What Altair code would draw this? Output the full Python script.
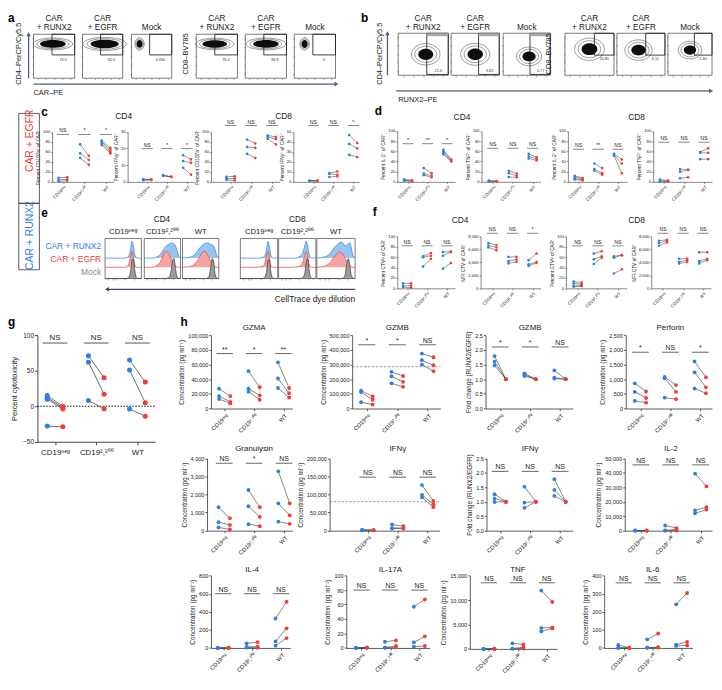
import altair as alt
import pandas as pd

# ======================= DATA =======================
GROUPS = ["CD19ⁿᵉᵍ", "CD19²,²⁰⁰", "WT"]

# ---- panel a / b flow plots (values in box-relative units) ----
A_TITLES = [["CAR", "+ RUNX2"], ["CAR", "+ EGFR"], ["Mock"], ["CAR", "+ RUNX2"], ["CAR", "+ EGFR"], ["Mock"]]
A_PCT = ["74.0", "82.0", "0.050", "78.4", "83.9", "0"]
A_BLOB_X = [0.47, 0.55, 0.2, 0.45, 0.5, 0.25]
A_BLOB_Y = [0.78, 0.78, 0.78, 0.78, 0.78, 0.78]
A_BLOB_W = [0.62, 0.7, 0.15, 0.6, 0.62, 0.15]
A_BLOB_R = [0.3, 0.3, 1.3, 0.3, 0.3, 1.3]
A_GATE = [0.45, 1.0, 0.53, 1.0]
B_PCT = ["21.6", "5.82", "0.77", "20.80", "6.11", "1.60"]
B_BLOB_X = [0.55, 0.5, 0.55, 0.5, 0.45, 0.5]
B_BLOB_Y = [0.5, 0.5, 0.45, 0.62, 0.6, 0.6]
B_BLOB_W = [0.3, 0.32, 0.28, 0.32, 0.3, 0.28]
B_BLOB_R = [0.75, 0.75, 0.75, 0.75, 0.75, 0.75]
B_GATE_CD4 = [0.57, 1.0, 0.02, 1.0]
B_GATE_CD8 = [0.6, 1.0, 0.48, 1.0]
FLOW_TICKS = [0.1, 0.3, 0.5, 0.7, 0.9]

# ---- panel c ----
C1_BLUE = [[8, 4, 1], [75, 57, 48], [83, 80, 77, 74]]
C1_RED = [[9, 5, 2], [52, 44, 34], [68, 64, 60, 57]]
C1_STATS = ["NS", "*", "*"]
C2_BLUE = [[1.5, 1.2, 1.0], [4.0, 3.8, 3.6], [16, 12.5, 8.5]]
C2_RED = [[1.4, 1.3, 1.1], [3.1, 3.0, 2.9], [13.5, 11.4, 4.3]]
C2_STATS = ["NS", "*", "*"]
C3_BLUE = [[10, 6.5, 4], [85, 70, 56], [93, 90, 86]]
C3_RED = [[11, 6.5, 2.6], [77, 68, 48], [90, 86, 75]]
C3_STATS = ["NS", "NS", "NS"]
C4_BLUE = [[1, 1, 1], [8.7, 8.0, 4.8], [47, 38, 27]]
C4_RED = [[1, 1, 1], [10.3, 7.1, 5.5], [39, 33.5, 24.8]]
C4_STATS = ["NS", "NS", "*"]

# ---- panel d ----
D1_BLUE = [[5, 3, 2], [27, 16, 13], [63, 60, 57, 54]]
D1_RED = [[3, 2, 1], [17, 12, 9], [44, 43, 41, 40]]
D1_STATS = ["*", "**", "*"]
D2_BLUE = [[2.5, 1.3, 1.0], [21.7, 17, 9.5], [55, 50, 46]]
D2_RED = [[1.3, 1.2, 1.0], [16, 11.5, 9], [48, 45, 42]]
D2_STATS = ["NS", "NS", "NS"]
D3_BLUE = [[12, 9.5, 6.4, 4.5], [36, 25, 22], [55, 53, 51.6]]
D3_RED = [[7.6, 5.7, 4, 2.5], [27, 17, 14], [44, 36, 16.6]]
D3_STATS = ["NS", "**", "NS"]
D4_BLUE = [[4.5, 1.3, 1.0], [25, 20, 7], [58.6, 57, 44.6]]
D4_RED = [[2.5, 1.3, 1.0], [24, 23, 9], [66, 57, 44.6]]
D4_STATS = ["NS", "NS", "NS"]

# ---- panel e (histogram heights, box-relative) ----
HX = [0, 0.2, 0.35, 0.45, 0.52, 0.58, 0.64, 0.7, 0.74, 0.78, 0.82, 0.86, 0.9, 0.95, 1.0]
E_BLUE = [
    [0, 0, 0, 0, 0, 0.01, 0.03, 0.2, 0.42, 0.3, 0.08, 0.02, 0, 0, 0],
    [0, 0, 0.03, 0.1, 0.2, 0.28, 0.33, 0.36, 0.38, 0.37, 0.36, 0.3, 0.2, 0.05, 0],
    [0, 0.02, 0.1, 0.22, 0.3, 0.35, 0.37, 0.38, 0.36, 0.34, 0.33, 0.3, 0.2, 0.06, 0],
    [0, 0, 0, 0, 0, 0.01, 0.04, 0.2, 0.42, 0.28, 0.06, 0.01, 0, 0, 0],
    [0, 0, 0, 0, 0.02, 0.05, 0.12, 0.3, 0.42, 0.3, 0.08, 0.02, 0, 0, 0],
    [0, 0.03, 0.12, 0.25, 0.33, 0.38, 0.4, 0.35, 0.3, 0.32, 0.36, 0.38, 0.25, 0.05, 0],
]
E_RED = [
    [0, 0, 0, 0, 0, 0.01, 0.05, 0.25, 0.39, 0.25, 0.06, 0.01, 0, 0, 0],
    [0, 0, 0.05, 0.15, 0.3, 0.4, 0.38, 0.3, 0.22, 0.15, 0.08, 0.03, 0.01, 0, 0],
    [0, 0.02, 0.1, 0.22, 0.33, 0.4, 0.38, 0.3, 0.22, 0.15, 0.08, 0.03, 0.01, 0, 0],
    [0, 0, 0, 0, 0.01, 0.02, 0.06, 0.3, 0.4, 0.2, 0.04, 0.01, 0, 0, 0],
    [0, 0, 0, 0.01, 0.02, 0.04, 0.1, 0.3, 0.4, 0.25, 0.06, 0.01, 0, 0, 0],
    [0, 0.03, 0.12, 0.25, 0.33, 0.38, 0.36, 0.3, 0.22, 0.15, 0.08, 0.03, 0.01, 0, 0],
]
E_GREY = [
    [0, 0, 0, 0, 0, 0, 0.02, 0.15, 0.45, 0.49, 0.2, 0.03, 0, 0, 0],
    [0, 0, 0, 0, 0, 0, 0.01, 0.05, 0.2, 0.45, 0.5, 0.25, 0.05, 0, 0],
    [0, 0, 0, 0, 0, 0, 0, 0.02, 0.08, 0.3, 0.5, 0.4, 0.1, 0.01, 0],
    [0, 0, 0, 0, 0, 0, 0.02, 0.15, 0.45, 0.48, 0.15, 0.02, 0, 0, 0],
    [0, 0, 0, 0, 0, 0, 0.02, 0.12, 0.4, 0.5, 0.2, 0.03, 0, 0, 0],
    [0, 0, 0, 0, 0, 0, 0, 0.02, 0.1, 0.35, 0.5, 0.35, 0.08, 0.01, 0],
]
E_BASES = [0.51, 0.28, 0.0]
E_TICKS = [0.08, 0.2, 0.3, 0.55, 0.8]

# ---- panel f ----
F1_BLUE = [[9.5, 5, 2.5], [62, 60, 42], [70, 63, 38]]
F1_RED = [[9.5, 5, 1.3], [68, 63, 57], [71, 70, 49]]
F1_STATS = ["NS", "NS", "NS"]
F2_BLUE = [[7000, 6600, 6300], [4860, 4200, 3850], [4350, 3700, 3450]]
F2_RED = [[6700, 6300, 5870], [4860, 4450, 4100], [5370, 4050, 3950]]
F2_STATS = ["NS", "NS", "*"]
F3_BLUE = [[13, 9.5, 5, 3], [67, 56, 47], [62, 59, 28.5]]
F3_RED = [[11, 7.6, 5, 4.4], [71.5, 62, 59], [64, 64, 36.7]]
F3_STATS = ["NS", "NS", "NS"]
F4_BLUE = [[7340, 6990, 6580], [4560, 4050, 3850], [5570, 4200, 3850]]
F4_RED = [[7490, 7340, 7090], [4560, 4350, 4050], [5570, 4560, 4350]]
F4_STATS = ["NS", "NS", "NS"]

# ---- panel g ----
G_BLUE = [[15, 12, 10, -28], [71, 62, 8], [65, 51, -4]]
G_RED = [[0, -2, -4, -29], [40, 17, -3.5], [34, 5, -14]]
G_STATS = ["NS", "NS", "NS"]

# ---- panel h ----
GZMA_BLUE = [[27000, 17000, 13000], [51000, 27000, 23000], [63000, 41000, 28000]]
GZMA_RED = [[17000, 9000, 7000], [29000, 18000, 12000], [28000, 21000, 15000]]
GZMA_STATS = ["**", "*", "**"]
GZMB_BLUE = [[122000, 112000, 43000], [250000, 220000, 172000], [375000, 330000, 300000]]
GZMB_RED = [[83000, 60000, 27000], [222000, 182000, 148000], [350000, 295000, 255000]]
GZMB_STATS = ["*", "*", "NS"]
GZMBFC_BLUE = [[1.79, 1.6, 1.47], [1.2, 1.15, 1.11], [1.3, 1.05, 1.02]]
GZMBFC_RED = [[1, 1, 1], [1, 1, 1], [1, 1, 1]]
GZMBFC_STATS = ["*", "*", "NS"]
PRF_BLUE = [[860, 570, 260], [1075, 1030, 370], [1606, 1233, 679]]
PRF_RED = [[580, 360, 200], [800, 570, 320], [1063, 724, 520]]
PRF_STATS = ["*", "NS", "*"]
GNLY_BLUE = [[1300, 470, 180], [2250, 1350, 360], [3280, 1510, 500]]
GNLY_RED = [[690, 320, 70], [1300, 760, 250], [1510, 850, 380]]
GNLY_STATS = ["NS", "*", "NS"]
IFNG_BLUE = [[1800, 1500, 1200], [17000, 7000, 6000], [126000, 99000, 92000]]
IFNG_RED = [[1500, 1300, 1000], [12800, 8000, 5500], [82000, 73000, 65000]]
IFNG_STATS = ["NS", "NS", "NS"]
IFNGFC_BLUE = [[1.26, 1.11, 0.99], [1.52, 0.97, 0.79], [1.78, 1.41, 1.2]]
IFNGFC_RED = [[1, 1, 1], [1, 1, 1], [1, 1, 1]]
IFNGFC_STATS = ["NS", "NS", "NS"]
IL2_BLUE = [[100, 50, 0], [3600, 200, 0], [39400, 14000, 12000]]
IL2_RED = [[100, 50, 0], [1800, 900, 0], [30600, 16200, 14600]]
IL2_STATS = ["NS", "NS", "NS"]
IL4_BLUE = [[0, 0, 0], [51, 11, 5], [326, 72, 25]]
IL4_RED = [[2, 0, 0], [65, 15, 2], [511, 217, 109]]
IL4_STATS = ["NS", "NS", "NS"]
IL17_BLUE = [[0, 0, 0], [8.6, 0.5, 0.3], [57, 7.7, 1.8]]
IL17_RED = [[0.5, 0.5, 0.3], [10.4, 2.7, 1], [67, 16, 2.7]]
IL17_STATS = ["NS", "NS", "NS"]
TNF_BLUE = [[0, 0, 0], [1130, 70, 30], [11930, 4270, 3600]]
TNF_RED = [[0, 0, 0], [930, 330, 100], [9600, 4400, 4200]]
TNF_STATS = ["NS", "NS", "NS"]
IL6_BLUE = [[16, 1, 0], [47, 2, 1], [241, 18, 11]]
IL6_RED = [[1, 0, 0], [80, 4, 2], [304, 33, 14]]
IL6_STATS = ["NS", "NS", "NS"]

# ======================= STYLE / LAYOUT =======================
W, H = 714, 674          # svg spans page x 8..722, y 8..682
SX = 712.0 / 718.0       # reference x 2..720  -> chart 0..712
SY = 674.0 / 682.0       # reference y 8..690  -> chart 0..674


def PX(px):
    return (px - 2) * SX


def PY(py):
    return (py - 8) * SY


BLUE = "#2f7fe3"
RED = "#ef3e39"
LBLUE = "#97c5f2"
LRED = "#f4a5a1"
GREYF = "#9d9d9d"
DARK = "#333333"
ARROW = "#4f5d7a"
FONT = "Liberation Sans"
TXT = "#1a1a1a"

LEXPR = ("datum.value == 0 ? '%s' : datum.value == 1 ? '%s' : datum.value == 2 ? '%s' : ''"
         % tuple(GROUPS))

SM = dict(lfs=4.2, tfs=4.8, xfs=4.5, pt=7, sfs=5.2, tick=1.5, dw=0.6, lw=0.5, bar=0.28,
          dx=0.2, tpad=2, lpad=1, angle=-45, barw=0.7)
MD = dict(lfs=5.6, tfs=6.4, xfs=5.8, pt=15, sfs=7, tick=2.2, dw=0.8, lw=0.6, bar=0.28,
          dx=0.19, tpad=3, lpad=1.5, angle=-45, barw=0.9)
GS = dict(lfs=6.5, tfs=7.5, xfs=8, pt=26, sfs=8, tick=3, dw=0.9, lw=0.7, bar=0.3,
          dx=0.19, tpad=4, lpad=4, angle=0, barw=1.0)

ONE = pd.DataFrame({"k": [0]})


def label(txt, x, y, size=8.0, color=TXT, align="center", baseline="middle",
          weight="normal", angle=0, lh=None):
    kw = dict(text=txt, fontSize=size, color=color, align=align, baseline=baseline,
              fontWeight=weight, font=FONT)
    if angle:
        kw["angle"] = angle
    if lh:
        kw["lineHeight"] = lh
    return alt.Chart(ONE).mark_text(**kw).encode(x=alt.value(PX(x)), y=alt.value(PY(y)))


def box(x0, x1, y0, y1, color=DARK, w=0.8):
    return alt.Chart(ONE).mark_rect(fill="white", fillOpacity=0, stroke=color, strokeWidth=w).encode(
        x=alt.value(PX(x0)), x2=alt.value(PX(x1)), y=alt.value(PY(y0)), y2=alt.value(PY(y1)))


def harrow(xa, xb, y, color=ARROW, w=1.3, head=22):
    line = alt.Chart(ONE).mark_rule(color=color, strokeWidth=w).encode(
        x=alt.value(PX(xa)), x2=alt.value(PX(xb)), y=alt.value(PY(y)))
    shape = "triangle-right" if xb > xa else "triangle-left"
    tip = alt.Chart(ONE).mark_point(shape=shape, filled=True, color=color, size=head, opacity=1).encode(
        x=alt.value(PX(xb)), y=alt.value(PY(y)))
    return [line, tip]


def varrow(x, ya, yb, color=ARROW, w=1.3, head=22):
    line = alt.Chart(ONE).mark_rule(color=color, strokeWidth=w).encode(
        x=alt.value(PX(x)), y=alt.value(PY(ya)), y2=alt.value(PY(yb)))
    tip = alt.Chart(ONE).mark_point(shape="triangle-up", filled=True, color=color, size=head, opacity=1).encode(
        x=alt.value(PX(x)), y=alt.value(PY(yb)))
    return [line, tip]


def paired(blue, red, stats, level, lay, ydom, yticks, ylab, st, fmt=",d", dashed=None, zero_line=False):
    x0, c0, sp, x1, ytop, ybot = lay
    xd = [(x0 - c0) / sp, (x1 - c0) / sp]
    xs = alt.Scale(domain=xd, range=[PX(x0), PX(x1)], nice=False, zero=False)
    ys = alt.Scale(domain=ydom, range=[PY(ybot), PY(ytop)], nice=False, zero=False)
    xa = alt.Axis(orient="bottom", offset=PY(ybot) - H, values=[0, 1, 2], labelExpr=LEXPR,
                  labelAngle=st["angle"], labelAlign="right" if st["angle"] else "center",
                  labelBaseline="top", labelFontSize=st["xfs"], labelPadding=st["lpad"],
                  tickSize=st["tick"], domainWidth=st["dw"], tickWidth=st["dw"], title=None,
                  grid=False, labelOverlap=False, labelFlush=False, domainColor=DARK,
                  tickColor=DARK, labelColor=TXT, labelFont=FONT)
    ya = alt.Axis(orient="left", offset=-PX(x0), values=yticks, format=fmt, title=ylab,
                  titleFontSize=st["tfs"], titleFontWeight="normal", titleColor=TXT,
                  labelFontSize=st["lfs"], tickSize=st["tick"], domainWidth=st["dw"],
                  tickWidth=st["dw"], grid=False, labelOverlap=False, labelFlush=False,
                  titlePadding=st["tpad"], labelPadding=1, domainColor=DARK, tickColor=DARK,
                  labelColor=TXT, labelFont=FONT, titleFont=FONT)
    rows = []
    for g, (bl, rl) in enumerate(zip(blue, red)):
        for i, (b, r) in enumerate(zip(bl, rl)):
            rows.append({"pair": f"{g}_{i}", "xp": g - st["dx"], "v": b, "c": BLUE})
            rows.append({"pair": f"{g}_{i}", "xp": g + st["dx"], "v": r, "c": RED})
    df = pd.DataFrame(rows)
    sdf = pd.DataFrame({"g": [0, 1, 2], "a": [g - st["bar"] for g in range(3)],
                        "b": [g + st["bar"] for g in range(3)], "lev": [level] * 3, "lab": stats})
    X = alt.X("xp:Q", scale=xs, axis=xa)
    Yv = alt.Y("v:Q", scale=ys, axis=ya)
    layers = []
    if dashed is not None or zero_line:
        ref = dashed if dashed is not None else 0
        ddf = pd.DataFrame({"a": [xd[0]], "b": [xd[1]], "v": [ref]})
        if zero_line:
            mk = alt.Chart(ddf).mark_rule(color="#111", strokeDash=[1.5, 1.5], strokeWidth=1.1)
        else:
            mk = alt.Chart(ddf).mark_rule(color="#777", strokeDash=[2.5, 1.5], strokeWidth=0.7)
        layers.append(mk.encode(x=alt.X("a:Q", scale=xs, axis=xa), x2="b:Q", y=Yv))
    layers.append(alt.Chart(df).mark_line(color=DARK, strokeWidth=st["lw"]).encode(
        x=X, y=Yv, detail="pair:N"))
    layers.append(alt.Chart(df).mark_circle(size=st["pt"], opacity=1).encode(
        x=X, y=Yv, color=alt.Color("c:N", scale=None)))
    layers.append(alt.Chart(sdf).mark_rule(color="#555", strokeWidth=st["barw"]).encode(
        x=alt.X("a:Q", scale=xs, axis=xa), x2="b:Q", y=alt.Y("lev:Q", scale=ys, axis=ya)))
    layers.append(alt.Chart(sdf).mark_text(fontSize=st["sfs"], baseline="bottom", dy=-1,
                                           color=TXT, font=FONT).encode(
        x=alt.X("g:Q", scale=xs, axis=xa), y=alt.Y("lev:Q", scale=ys, axis=ya), text="lab:N"))
    return alt.layer(*layers)


def ellipse_path(r):
    return f"M-1,0A1,{r} 0 1,0 1,0A1,{r} 0 1,0 -1,0Z"


def flow(bx, by, blob, gate, pct, pct_pos, rings=(1.55, 1.25), top_strip=False):
    x0, x1 = bx
    y0, y1 = by
    xs = alt.Scale(domain=[0, 1], range=[PX(x0), PX(x1)], nice=False, zero=False)
    ys = alt.Scale(domain=[0, 1], range=[PY(y1), PY(y0)], nice=False, zero=False)
    xa = alt.Axis(orient="bottom", offset=PY(y1) - H, values=FLOW_TICKS, labels=False,
                  tickSize=1.5, domain=False, title=None, grid=False, tickColor="#555", tickWidth=0.5)
    ya = alt.Axis(orient="left", offset=-PX(x0), values=FLOW_TICKS, labels=False,
                  tickSize=1.5, domain=False, title=None, grid=False, tickColor="#555", tickWidth=0.5)
    fdf = pd.DataFrame({"a": [0], "b": [1], "c": [0], "d": [1]})
    frame = alt.Chart(fdf).mark_rect(fill="white", fillOpacity=0, stroke="#444", strokeWidth=0.7).encode(
        x=alt.X("a:Q", scale=xs, axis=xa), x2="b:Q", y=alt.Y("c:Q", scale=ys, axis=ya), y2="d:Q")
    cx, cy, w, r = blob
    bw = PX(x1) - PX(x0)
    path = ellipse_path(r)
    bdf = pd.DataFrame({"x": [cx, cx, cx], "y": [cy, cy, cy],
                        "s": [(w * bw * rings[0]) ** 2, (w * bw * rings[1]) ** 2, (w * bw) ** 2],
                        "shp": [path, path, path]})
    ring = alt.Chart(bdf.iloc[:2]).mark_point(filled=False, color="#222", strokeWidth=0.45, opacity=1).encode(
        x=alt.X("x:Q", scale=xs, axis=xa), y=alt.Y("y:Q", scale=ys, axis=ya),
        size=alt.Size("s:Q", scale=None), shape=alt.Shape("shp:N", scale=None))
    core = alt.Chart(bdf.iloc[2:]).mark_point(filled=True, color="#0d0d0d", opacity=1).encode(
        x=alt.X("x:Q", scale=xs, axis=xa), y=alt.Y("y:Q", scale=ys, axis=ya),
        size=alt.Size("s:Q", scale=None), shape=alt.Shape("shp:N", scale=None))
    gdf = pd.DataFrame({"a": [gate[0]], "b": [gate[1]], "c": [gate[2]], "d": [gate[3]]})
    gate_l = alt.Chart(gdf).mark_rect(fill="white", fillOpacity=0, stroke="#111", strokeWidth=0.8).encode(
        x=alt.X("a:Q", scale=xs, axis=xa), x2="b:Q", y=alt.Y("c:Q", scale=ys, axis=ya), y2="d:Q")
    tdf = pd.DataFrame({"x": [pct_pos[0]], "y": [pct_pos[1]], "t": [pct]})
    txt = alt.Chart(tdf).mark_text(fontSize=3.8, color="#333", font=FONT).encode(
        x=alt.X("x:Q", scale=xs, axis=xa), y=alt.Y("y:Q", scale=ys, axis=ya), text="t:N")
    layers = [frame, ring, core, gate_l, txt]
    if top_strip:
        sdf = pd.DataFrame({"a": [gate[0]], "b": [gate[1]], "c": [0.93], "d": [1.0]})
        layers.append(alt.Chart(sdf).mark_rect(fill="#aaaaaa", opacity=1).encode(
            x=alt.X("a:Q", scale=xs, axis=xa), x2="b:Q", y=alt.Y("c:Q", scale=ys, axis=ya), y2="d:Q"))
    return alt.layer(*layers)


def hist_box(bx, by, blue_h, red_h, grey_h):
    x0, x1 = bx
    y0, y1 = by
    xs = alt.Scale(domain=[0, 1], range=[PX(x0), PX(x1)], nice=False, zero=False)
    ys = alt.Scale(domain=[0, 1], range=[PY(y1), PY(y0)], nice=False, zero=False)
    xa = alt.Axis(orient="bottom", offset=PY(y1) - H, values=E_TICKS, labels=False,
                  tickSize=1.5, domain=False, title=None, grid=False, tickColor="#555", tickWidth=0.5)
    layers = []
    for hts, base, fill, stroke in [(blue_h, E_BASES[0], LBLUE, BLUE), (red_h, E_BASES[1], LRED, RED),
                                    (grey_h, E_BASES[2], GREYF, "#333333")]:
        df = pd.DataFrame({"x": HX, "top": [base + h for h in hts], "base": [base] * len(HX)})
        layers.append(alt.Chart(df).mark_area(interpolate="monotone", color=fill, opacity=1,
                                              line={"color": stroke, "strokeWidth": 0.7}).encode(
            x=alt.X("x:Q", scale=xs, axis=xa), y=alt.Y("top:Q", scale=ys, axis=None), y2="base:Q"))
    fdf = pd.DataFrame({"a": [0], "b": [1], "c": [0], "d": [1]})
    layers.append(alt.Chart(fdf).mark_rect(fill="white", fillOpacity=0, stroke="#444", strokeWidth=0.7).encode(
        x=alt.X("a:Q", scale=xs, axis=xa), x2="b:Q", y=alt.Y("c:Q", scale=ys, axis=None), y2="d:Q"))
    return alt.layer(*layers)


layers = []

# ---------------- panel letters ----------------
for t, x, y in [("a", 2, 14), ("b", 362, 14), ("c", 36, 111), ("d", 376, 110),
                ("e", 36, 214), ("f", 374, 213), ("g", 2, 325), ("h", 178, 325)]:
    layers.append(label(t, x, y, size=12, weight="bold", align="left", color="#000"))

# ---------------- panel a ----------------
A_BX = [(28, 70), (78, 119), (128, 169), (194, 236), (244, 286), (294, 336)]
A_BY = (31, 76)
for i in range(6):
    blob = (A_BLOB_X[i], A_BLOB_Y[i], A_BLOB_W[i], A_BLOB_R[i])
    layers.append(flow(A_BX[i], A_BY, blob, A_GATE, A_PCT[i], (0.72, 0.42)))
    cx = (A_BX[i][0] + A_BX[i][1]) / 2
    tl = A_TITLES[i]
    layers.append(label(tl, cx, 15 if len(tl) == 2 else 25, size=8.3, baseline="middle", lh=10))
layers.append(label("CD4–PerCP/Cy5.5", 13, 51, size=7.5, angle=270))
layers.append(label("CD8–BV785", 184, 51, size=7.5, angle=270))
layers += varrow(23, 76, 31)
layers += harrow(28, 337, 82)
layers.append(label("CAR–PE", 28, 91, size=7.5, align="left"))

# ---------------- panel b ----------------
B_BX = [(400, 451), (454, 503), (507, 555), (570, 620), (623, 672), (675, 720)]
B_BY = (30, 73)
for i in range(6):
    blob = (B_BLOB_X[i], B_BLOB_Y[i], B_BLOB_W[i], B_BLOB_R[i])
    if i < 3:
        layers.append(flow(B_BX[i], B_BY, blob, B_GATE_CD4, B_PCT[i], (0.8, 0.1),
                           rings=(1.9, 1.45), top_strip=True))
    else:
        layers.append(flow(B_BX[i], B_BY, blob, B_GATE_CD8, B_PCT[i], (0.8, 0.38),
                           rings=(1.9, 1.45)))
    cx = (B_BX[i][0] + B_BX[i][1]) / 2
    tl = A_TITLES[i]
    layers.append(label(tl, cx, 15 if len(tl) == 2 else 25, size=8.3, lh=10))
layers.append(label("CD4–PerCP/Cy5.5", 381, 51, size=7.5, angle=270))
layers.append(label("CD8–BV785", 554, 51, size=7.5, angle=270))
layers += varrow(389, 73, 30)
layers += harrow(398, 719, 89)
layers.append(label("RUNX2–PE", 400, 98, size=7.5, align="left"))

# ---------------- left legend boxes ----------------
layers.append(box(13, 34, 112, 204))
layers.append(box(13, 34, 204, 272))
layers.append(label("CAR + EGFR", 24, 140, size=10.5, color=RED, angle=270))
layers.append(label("CAR + RUNX2", 24, 237, size=10.5, color=BLUE, angle=270))

# ---------------- panel c ----------------
c_specs = [
    (C1_BLUE, C1_RED, C1_STATS, 95, (47, 58, 22, 110, 131, 182), [0, 100], [0, 20, 40, 60, 80, 100], "Percent CD107a⁺ of CAR⁺"),
    (C2_BLUE, C2_RED, C2_STATS, 20, (124, 144, 20.3, 192, 131, 182), [0, 30], [0, 10, 20, 30], "Percent IFNγ⁺ of CAR⁺"),
    (C3_BLUE, C3_RED, C3_STATS, 113, (209, 229, 21, 279, 131, 182), [0, 100], [0, 20, 40, 60, 80, 100], "Percent CD107a⁺ of CAR⁺"),
    (C4_BLUE, C4_RED, C4_STATS, 56.5, (293, 313.5, 20.3, 360, 131, 182), [0, 50], [0, 10, 20, 30, 40, 50], "Percent IFNγ⁺ of CAR⁺"),
]
for b, r, s, lev, lay, dom, tk, yl in c_specs:
    layers.append(paired(b, r, s, lev, lay, dom, tk, yl, SM))
layers.append(label("CD4", 120, 115, size=8.5))
layers.append(label("CD8", 283, 115, size=8.5))

# ---------------- panel d ----------------
d_specs = [
    (D1_BLUE, D1_RED, D1_STATS, 75, (399, 410, 20, 458, 130, 182), "Percent IL-2⁺ of CAR⁺"),
    (D2_BLUE, D2_RED, D2_STATS, 66, (485, 496.5, 20.3, 545, 130, 182), "Percent TNF⁺ of CAR⁺"),
    (D3_BLUE, D3_RED, D3_STATS, 64, (573, 584, 20, 633, 130, 182), "Percent IL-2⁺ of CAR⁺"),
    (D4_BLUE, D4_RED, D4_STATS, 78, (660, 671, 20.5, 720, 130, 182), "Percent TNF⁺ of CAR⁺"),
]
for b, r, s, lev, lay, yl in d_specs:
    layers.append(paired(b, r, s, lev, lay, [0, 100], [0, 20, 40, 60, 80, 100], yl, SM))
layers.append(label("CD4", 465, 116, size=8.5))
layers.append(label("CD8", 643, 116, size=8.5))

# ---------------- panel e ----------------
E_BX = [(101, 138), (141, 178), (180, 217), (239, 277), (278, 316), (317, 356)]
E_BY = (240, 281)
for i in range(6):
    layers.append(hist_box(E_BX[i], E_BY, E_BLUE[i], E_RED[i], E_GREY[i]))
    cx = (E_BX[i][0] + E_BX[i][1]) / 2
    layers.append(label(GROUPS[i % 3], cx, 233, size=7.8))
layers.append(label("CD4", 159, 221, size=8.3))
layers.append(label("CD8", 297, 221, size=8.3))
layers.append(label("CAR + RUNX2", 97, 248, size=8.5, color=BLUE, align="right"))
layers.append(label("CAR + EGFR", 97, 261, size=8.5, color=RED, align="right"))
layers.append(label("Mock", 97, 274, size=8.5, color="#8a8a8a", align="right"))
layers += harrow(356, 103, 292, color="#3d4c66")
layers.append(label("CellTrace dye dilution", 356, 302, size=8.5, align="right"))

# ---------------- panel f ----------------
f_specs = [
    (F1_BLUE, F1_RED, F1_STATS, 82, (399, 409, 20.3, 458, 238, 291), [0, 100], [0, 20, 40, 60, 80, 100], "Percent CTVˡᵒ of CAR⁺"),
    (F2_BLUE, F2_RED, F2_STATS, 8500, (484, 496, 20.5, 545, 238, 291), [0, 8000], [0, 2000, 4000, 6000, 8000], "MFI CTV of CAR⁺"),
    (F3_BLUE, F3_RED, F3_STATS, 82, (571, 583, 20.5, 633, 238, 291), [0, 100], [0, 20, 40, 60, 80, 100], "Percent CTVˡᵒ of CAR⁺"),
    (F4_BLUE, F4_RED, F4_STATS, 8500, (658, 670, 20.5, 719, 238, 291), [0, 8000], [0, 2000, 4000, 6000, 8000], "MFI CTV of CAR⁺"),
]
for b, r, s, lev, lay, dom, tk, yl in f_specs:
    layers.append(paired(b, r, s, lev, lay, dom, tk, yl, SM))
layers.append(label("CD4", 463, 221, size=8.5))
layers.append(label("CD8", 643, 221, size=8.5))

# ---------------- panel g ----------------
layers.append(paired(G_BLUE, G_RED, G_STATS, 89, (32, 50, 42, 152, 339, 448), [-50, 100],
                     [-50, 0, 50, 100], "Percent cytotoxicity", GS, zero_line=True))

# ---------------- panel h ----------------
CONC = "Concentration (pg ml⁻¹)"
FC = "Fold change (RUNX2/EGFR)"
h_specs = [
    ("GZMA", GZMA_BLUE, GZMA_RED, GZMA_STATS, 75000, (209, 223, 30, 292, 339, 414), [0, 100000],
     [0, 20000, 40000, 60000, 80000, 100000], CONC, ",d", None, 332),
    ("GZMB", GZMB_BLUE, GZMB_RED, GZMB_STATS, 435000, (353, 368, 31, 443, 339, 414), [0, 500000],
     [0, 100000, 200000, 300000, 400000, 500000], CONC, ",d", 285000, 332),
    ("GZMB", GZMBFC_BLUE, GZMBFC_RED, GZMBFC_STATS, 2.1, (489, 504, 30.5, 578, 339, 414), [0, 2.5],
     [0, 0.5, 1, 1.5, 2, 2.5], FC, ".1f", None, 332),
    ("Perforin", PRF_BLUE, PRF_RED, PRF_STATS, 1920, (632, 647, 30.5, 720, 339, 414), [0, 2500],
     [0, 500, 1000, 1500, 2000, 2500], CONC, ",d", None, 332),
    ("Granulysin", GNLY_BLUE, GNLY_RED, GNLY_STATS, 3730, (205, 222.5, 30.5, 292, 465, 539), [0, 4000],
     [0, 1000, 2000, 3000, 4000], CONC, ",d", None, 455),
    ("IFNγ", IFNG_BLUE, IFNG_RED, IFNG_STATS, 148000, (330, 369, 30.5, 442, 465, 539), [0, 200000],
     [0, 50000, 100000, 150000, 200000], CONC, ",d", 80000, 455),
    ("IFNγ", IFNGFC_BLUE, IFNGFC_RED, IFNGFC_STATS, 2.05, (490, 504, 30.5, 578, 465, 539), [0, 2.5],
     [0, 0.5, 1, 1.5, 2, 2.5], FC, ".1f", None, 455),
    ("IL-2", IL2_BLUE, IL2_RED, IL2_STATS, 45500, (631, 647.5, 30.5, 720, 465, 539), [0, 50000],
     [0, 10000, 20000, 30000, 40000, 50000], CONC, ",d", None, 455),
    ("IL-4", IL4_BLUE, IL4_RED, IL4_STATS, 600, (209, 221.5, 29.5, 290, 585, 659), [0, 800],
     [0, 200, 400, 600, 800], CONC, ",d", None, 579),
    ("IL-17A", IL17_BLUE, IL17_RED, IL17_STATS, 80, (347, 362.5, 29.5, 432, 585, 659), [0, 100],
     [0, 20, 40, 60, 80, 100], CONC, ",d", None, 579),
    ("TNF", TNF_BLUE, TNF_RED, TNF_STATS, 13530, (473, 492.5, 29.5, 562, 585, 660), [0, 15000],
     [0, 5000, 10000, 15000], CONC, ",d", None, 579),
    ("IL-6", IL6_BLUE, IL6_RED, IL6_STATS, 360, (610, 630, 29.5, 700, 585, 659), [0, 400],
     [0, 100, 200, 300, 400], CONC, ",d", None, 579),
]
for title, b, r, s, lev, lay, dom, tk, yl, fmt, dash, ty in h_specs:
    layers.append(paired(b, r, s, lev, lay, dom, tk, yl, MD, fmt=fmt, dashed=dash))
    layers.append(label(title, lay[1] + lay[2], ty, size=8))

chart = alt.layer(*layers).resolve_scale(x="independent", y="independent").properties(
    width=W, height=H, padding=0, autosize=alt.AutoSizeParams(type="none")
).configure_view(stroke=None).configure_axis(grid=False, labelFont=FONT, titleFont=FONT
).configure_text(font=FONT)

chart.save("out.html", embed_options={"renderer": "svg", "actions": False})
